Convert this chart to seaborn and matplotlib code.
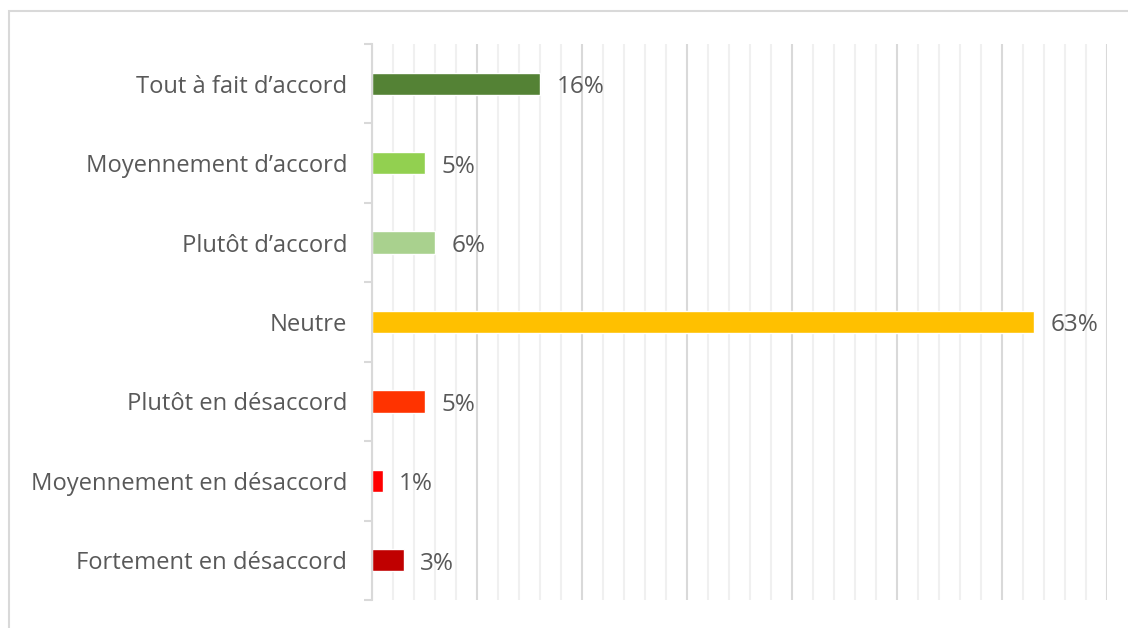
import matplotlib
matplotlib.use("Agg")
import matplotlib.pyplot as plt
from matplotlib.patches import Rectangle
from matplotlib.ticker import MultipleLocator, FixedLocator, NullFormatter
import seaborn as sns
import pandas as pd

categories = [
    "Tout à fait d’accord",
    "Moyennement d’accord",
    "Plutôt d’accord",
    "Neutre",
    "Plutôt en désaccord",
    "Moyennement en désaccord",
    "Fortement en désaccord",
]
values = [16, 5, 6, 63, 5, 1, 3]
colors = ["#548235", "#92D050", "#A9D18E", "#FFC000", "#FF3300", "#FF0000", "#C00000"]

df = pd.DataFrame({"categorie": categories, "pourcentage": values})

sns.set_theme(style="white")
plt.rcParams["font.family"] = ["Open Sans", "DejaVu Sans"]

fig = plt.figure(figsize=(11.28, 6.28), dpi=100)
fig.patch.set_facecolor("white")
# outer chart frame
fig.patches.append(Rectangle((9 / 1128, -0.1), 1.2, 1 - 11 / 628 + 0.1,
                             transform=fig.transFigure, fill=False,
                             edgecolor="#d9d9d9", linewidth=1.5, zorder=0))

ax = fig.add_axes([372 / 1128, 1 - 600 / 628, (1107 - 372) / 1128, (600 - 44) / 628])

sns.barplot(data=df, y="categorie", x="pourcentage", hue="categorie",
            palette=colors, orient="h", width=0.28, legend=False,
            saturation=1, ax=ax)

ax.set_xlim(0, 70)
ax.set_ylim(6.5, -0.5)
ax.xaxis.set_major_locator(MultipleLocator(10))
ax.xaxis.set_minor_locator(MultipleLocator(2))
ax.xaxis.set_major_formatter(NullFormatter())
ax.grid(axis="x", which="minor", color="#f0f0f0", linewidth=1.5, zorder=0)
ax.grid(axis="x", which="major", color="#d9d9d9", linewidth=1.5, zorder=0)
ax.set_axisbelow(True)
ax.tick_params(axis="x", which="both", length=0)

ax.yaxis.set_minor_locator(FixedLocator([i - 0.5 for i in range(8)]))
ax.tick_params(axis="y", which="major", length=0, pad=18, labelsize=17.1,
               labelcolor="#595959")
ax.tick_params(axis="y", which="minor", length=6, width=1.5, color="#d9d9d9",
               left=True)

for side in ["top", "right", "bottom"]:
    ax.spines[side].set_visible(False)
ax.spines["left"].set_color("#d9d9d9")
ax.spines["left"].set_linewidth(1.5)

ax.set_xlabel("")
ax.set_ylabel("")

for container in ax.containers:
    labels = ax.bar_label(container, fmt="{:.0f}%", padding=12, fontsize=17.5,
                          color="#595959")
    for lab in labels:
        lab.set_position((12, -2.5))

fig.savefig("out.png", dpi=100)
